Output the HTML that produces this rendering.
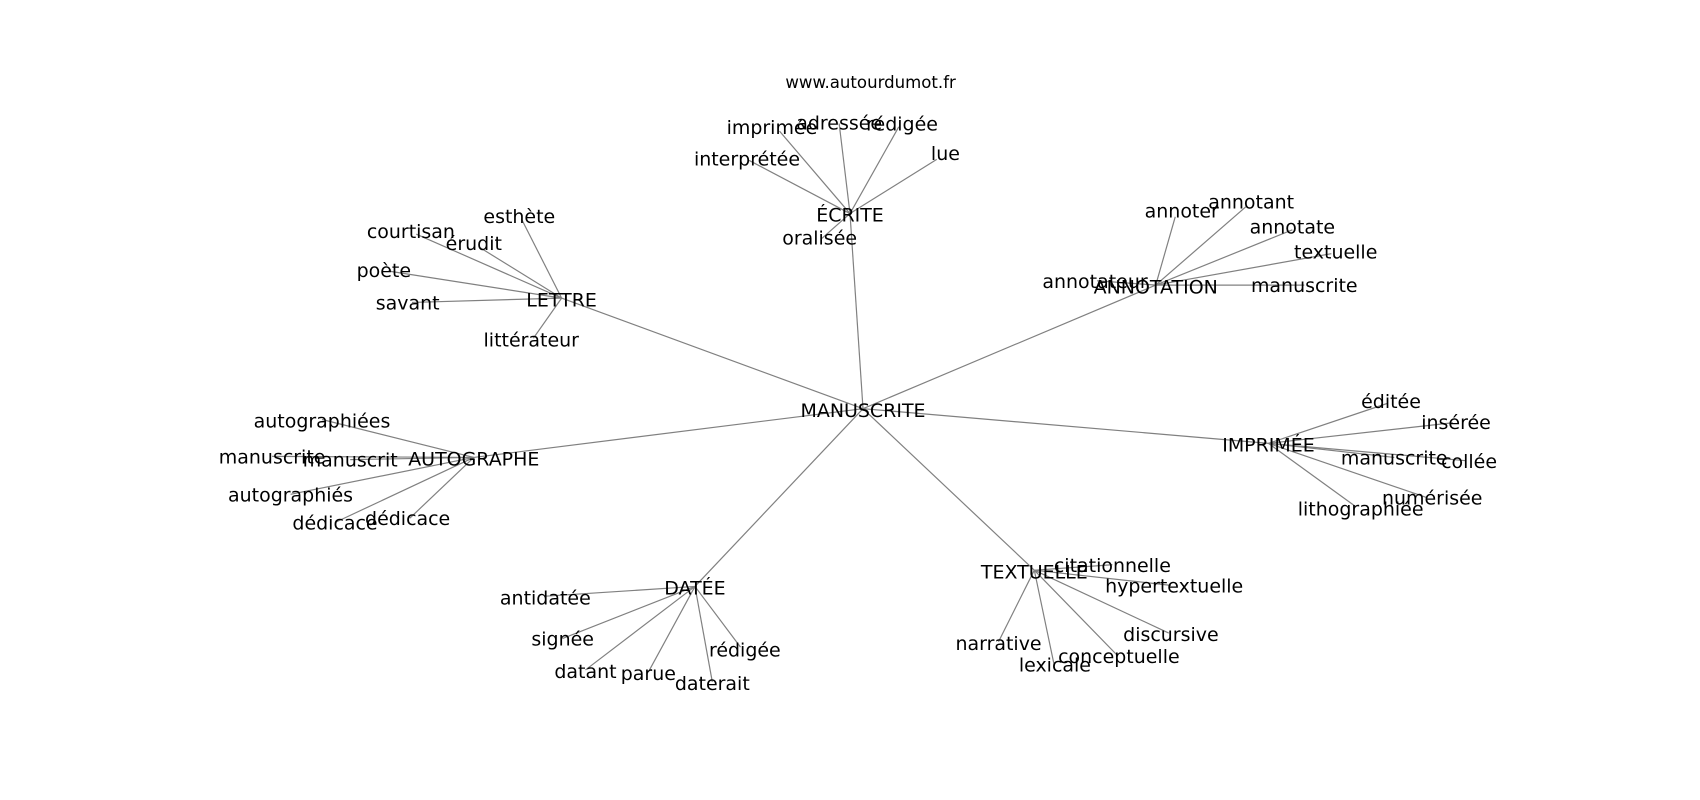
<!DOCTYPE html>
<html><head><meta charset="utf-8"><style>
html,body{margin:0;padding:0;background:#fff;}
svg{display:block}
text{font-family:"DejaVu Sans","Liberation Sans",sans-serif;font-size:17.5px;fill:#000;text-anchor:middle;dominant-baseline:central}
line{stroke:#808080;stroke-width:1.1}
</style></head><body>
<svg width="1700" height="800" viewBox="0 0 1568 738" preserveAspectRatio="none">
<g id="L">
<line x1="796" y1="377" x2="784" y2="197"/>
<line x1="796" y1="377" x2="518" y2="275"/>
<line x1="796" y1="377" x2="1066" y2="263"/>
<line x1="796" y1="377" x2="437" y2="422"/>
<line x1="796" y1="377" x2="1170" y2="409"/>
<line x1="796" y1="377" x2="641" y2="541"/>
<line x1="796" y1="377" x2="954" y2="526"/>
<line x1="784" y1="197" x2="719" y2="121"/>
<line x1="784" y1="197" x2="774" y2="114"/>
<line x1="784" y1="197" x2="829" y2="117"/>
<line x1="784" y1="197" x2="691" y2="148"/>
<line x1="784" y1="197" x2="864" y2="147"/>
<line x1="784" y1="197" x2="758" y2="220"/>
<line x1="518" y1="275" x2="481" y2="202"/>
<line x1="518" y1="275" x2="384" y2="216"/>
<line x1="518" y1="275" x2="442" y2="228"/>
<line x1="518" y1="275" x2="358" y2="250"/>
<line x1="518" y1="275" x2="380" y2="279"/>
<line x1="518" y1="275" x2="492" y2="312"/>
<line x1="1066" y1="263" x2="1084" y2="200"/>
<line x1="1066" y1="263" x2="1150" y2="190"/>
<line x1="1066" y1="263" x2="1192" y2="212"/>
<line x1="1066" y1="263" x2="1228" y2="234"/>
<line x1="1066" y1="263" x2="1203" y2="263"/>
<line x1="1066" y1="263" x2="1012" y2="259"/>
<line x1="437" y1="422" x2="297" y2="387"/>
<line x1="437" y1="422" x2="251" y2="421"/>
<line x1="437" y1="422" x2="323" y2="424"/>
<line x1="437" y1="422" x2="268" y2="456"/>
<line x1="437" y1="422" x2="309" y2="482"/>
<line x1="437" y1="422" x2="378" y2="478"/>
<line x1="1170" y1="409" x2="1280" y2="372"/>
<line x1="1170" y1="409" x2="1340" y2="390"/>
<line x1="1170" y1="409" x2="1286" y2="422"/>
<line x1="1170" y1="409" x2="1352" y2="425"/>
<line x1="1170" y1="409" x2="1316" y2="459"/>
<line x1="1170" y1="409" x2="1250" y2="467"/>
<line x1="641" y1="541" x2="503" y2="550"/>
<line x1="641" y1="541" x2="519" y2="589"/>
<line x1="641" y1="541" x2="540" y2="618"/>
<line x1="641" y1="541" x2="598" y2="620"/>
<line x1="641" y1="541" x2="657" y2="629"/>
<line x1="641" y1="541" x2="683" y2="597"/>
<line x1="954" y1="526" x2="1026" y2="521"/>
<line x1="954" y1="526" x2="1080" y2="540"/>
<line x1="954" y1="526" x2="1078" y2="584"/>
<line x1="954" y1="526" x2="1030" y2="604"/>
<line x1="954" y1="526" x2="972" y2="612"/>
<line x1="954" y1="526" x2="921" y2="592"/>
</g>
<text x="803" y="76" style="font-size:15.3px">www.autourdumot.fr</text>
<text x="796" y="379">MANUSCRITE</text>
<text x="784" y="199">ÉCRITE</text>
<text x="518" y="277">LETTRE</text>
<text x="1066" y="265">ANNOTATION</text>
<text x="437" y="424">AUTOGRAPHE</text>
<text x="1170" y="411">IMPRIMÉE</text>
<text x="641" y="543">DATÉE</text>
<text x="954" y="528">TEXTUELLE</text>

<text x="712" y="118">imprimée</text>
<text x="774" y="114">adressée</text>
<text x="832" y="115">rédigée</text>
<text x="689" y="147">interprétée</text>
<text x="872" y="142">lue</text>
<text x="756" y="220">oralisée</text>

<text x="479" y="200">esthète</text>
<text x="379" y="214">courtisan</text>
<text x="437" y="225">érudit</text>
<text x="354" y="250">poète</text>
<text x="376" y="280">savant</text>
<text x="490" y="314">littérateur</text>

<text x="1090" y="195">annoter</text>
<text x="1154" y="187">annotant</text>
<text x="1192" y="210">annotate</text>
<text x="1232" y="233">textuelle</text>
<text x="1203" y="264">manuscrite</text>
<text x="1010" y="260">annotateur</text>

<text x="297" y="389">autographiées</text>
<text x="251" y="422">manuscrite</text>
<text x="323" y="425">manuscrit</text>
<text x="268" y="457">autographiés</text>
<text x="309" y="483">dédicace</text>
<text x="376" y="479">dédicace</text>

<text x="1283" y="371">éditée</text>
<text x="1343" y="390">insérée</text>
<text x="1286" y="423">manuscrite</text>
<text x="1355" y="426">collée</text>
<text x="1321" y="460">numérisée</text>
<text x="1255" y="470">lithographiée</text>

<text x="503" y="552">antidatée</text>
<text x="519" y="590">signée</text>
<text x="540" y="620">datant</text>
<text x="598" y="622">parue</text>
<text x="657" y="631">daterait</text>
<text x="687" y="600">rédigée</text>

<text x="1026" y="522">citationnelle</text>
<text x="1083" y="541">hypertextuelle</text>
<text x="1080" y="586">discursive</text>
<text x="1032" y="606">conceptuelle</text>
<text x="973" y="614">lexicale</text>
<text x="921" y="594">narrative</text>
</svg>
</body></html>
